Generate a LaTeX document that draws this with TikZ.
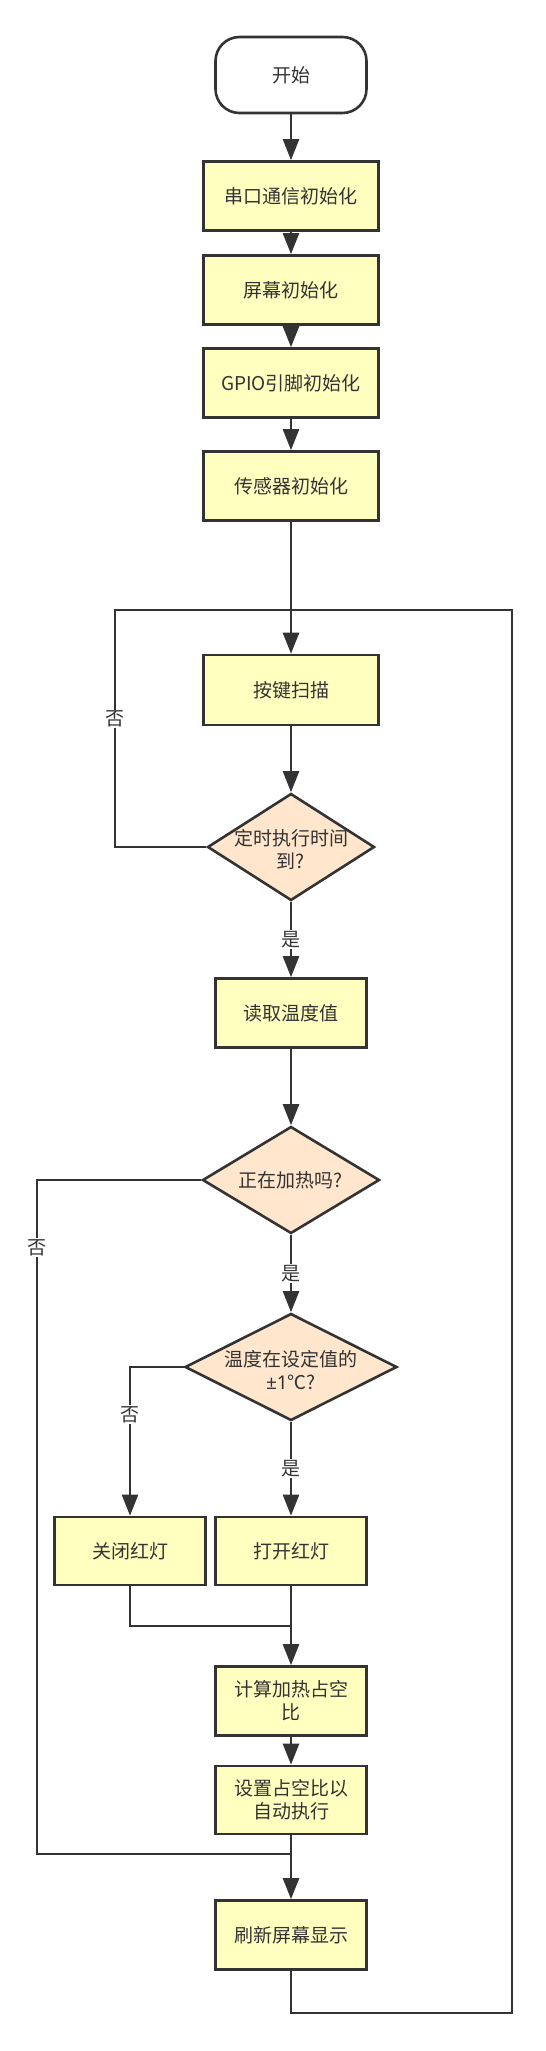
\documentclass[tikz,border=0pt]{standalone}
\usepackage{fontspec}
\setmainfont{Noto Sans CJK SC}
\newfontfamily\latinfont{Noto Sans}
\usetikzlibrary{ shapes.geometric, % For diamond
                 arrows.meta,      % For triangle tips
               }

\definecolor{linegray}{HTML}{333333}
\definecolor{boxyellow}{HTML}{FFFFC0}
\definecolor{decpeach}{HTML}{FFE6CC}

\tikzset{
  chart font/.style={font=\fontsize{19pt}{23pt}\selectfont, text=linegray},
  terminal/.style={chart font, draw=linegray, line width=2.6pt, fill=white,
                   rounded corners=24pt, minimum width=151pt, minimum height=76pt, inner sep=0pt},
  process/.style={chart font, draw=linegray, line width=2.6pt, fill=boxyellow,
                  minimum width=151pt, minimum height=69pt, inner sep=0pt, align=center},
  wide process/.style={process, minimum width=175pt},
  decision/.style={draw=linegray, line width=2.6pt, fill=decpeach, diamond, inner sep=0pt},
  dec text/.style={chart font, align=center},
  flow/.style={draw=linegray, line width=2.4pt, -{Triangle[length=21pt, width=16pt]}},
  plain flow/.style={draw=linegray, line width=2.2pt},
  branch/.style={chart font, fill=white, inner sep=1pt},
}

\begin{document}
\begin{tikzpicture}[x=1pt, y=-1pt] % loop lines by hand
  \fill[white] (0,0) rectangle (546,2051);
  \useasboundingbox (0,0) rectangle (546,2051);

  \node[terminal] (start) at (291,75) {开始};
  \node[wide process] (init_uart) at (291,196) {串口通信初始化};
  \node[wide process] (init_screen) at (291,290) {屏幕初始化};
  \node[wide process] (init_gpio) at (291,383) {GPIO引脚初始化};
  \node[wide process] (init_sensor) at (291,486) {传感器初始化};

  \node[wide process, minimum height=70pt] (key_scan) at (291,690) {按键扫描};
  \node[decision, minimum width=167pt, minimum height=107pt] (timer_q) at (291,847) {};
  \node[dec text] (timer_q_text) at (291,850) {定时执行时间\\到?};

  \node[process] (read_temp) at (291,1013) {读取温度值};
  \node[decision, minimum width=177pt, minimum height=107pt] (heat_q) at (291,1180) {};
  \node[dec text] (heat_q_text) at (291,1180) {正在加热吗?};
  \node[decision, minimum width=212pt, minimum height=107pt] (range_q) at (291,1367) {};
  \node[dec text] (range_q_text) at (291,1370) {温度在设定值的\\{\latinfont ±1}℃?};

  \node[process, minimum height=68pt] (lamp_off) at (130,1551) {关闭红灯};
  \node[process, minimum height=68pt] (lamp_on) at (291,1551) {打开红灯};
  \node[process] (calc_duty) at (291,1701) {计算加热占空\\比};
  \node[process, minimum height=68pt] (set_duty) at (291,1800) {设置占空比以\\自动执行};
  \node[process] (show_screen) at (291,1935) {刷新屏幕显示};

  \coordinate (top_join) at (291,610);
  \coordinate (loop_left) at (115,610);
  \coordinate (heat_left) at (37,1854);
  \coordinate (heat_join) at (291,1854);
  \coordinate (off_join) at (291,1626);
  \coordinate (loop_right) at (512,2013);

  \draw[flow] (start) -- (init_uart);
  \draw[flow] (init_uart) -- (init_screen);
  \draw[flow] (init_screen) -- (init_gpio);
  \draw[flow] (init_gpio) -- (init_sensor);
  \draw[flow] (init_sensor) -- (key_scan);
  \draw[flow] (key_scan) -- (timer_q);
  \draw[flow] (timer_q) -- node[branch] {是} (read_temp);
  \draw[flow] (read_temp) -- (heat_q);
  \draw[flow] (heat_q) -- node[branch] {是} (range_q);
  \draw[flow] (range_q.west) -| node[branch, pos=0.66] {否} (lamp_off.north);
  \draw[flow] (range_q) -- node[branch] {是} (lamp_on);
  \draw[flow] (lamp_on) -- (calc_duty);
  \draw[flow] (calc_duty) -- (set_duty);
  \draw[flow] (set_duty) -- (show_screen);

  \draw[plain flow] (timer_q.west) -| node[branch, pos=0.77] {否} (loop_left) -- (top_join);
  \draw[plain flow] (heat_q.west) -| node[branch, pos=0.55] {否} (heat_left) -- (heat_join);
  \draw[plain flow] (lamp_off.south) |- (off_join);
  \draw[plain flow] (show_screen.south) |- (loop_right) |- (top_join);

\end{tikzpicture}
\end{document}
